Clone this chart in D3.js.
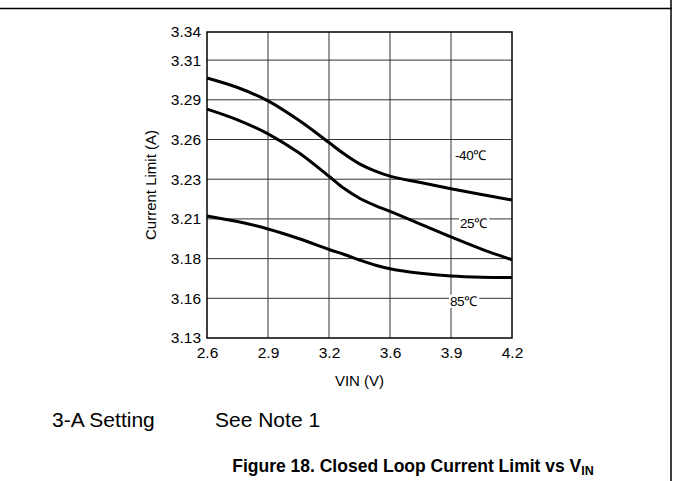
<!DOCTYPE html>
<html>
<head>
<meta charset="utf-8">
<script src="https://cdn.jsdelivr.net/npm/d3@7"></script>
<style>
  body { margin: 0; background: #fff; }
  svg { display: block; font-family: "Liberation Sans", Arial, sans-serif; }
</style>
</head>
<body>
<svg id="chart" width="676" height="481"></svg>
<script>
// tick labels as printed on the chart
const xTicks = [2.6, 2.9, 3.2, 3.6, 3.9, 4.2];
const yTicks = [3.13, 3.16, 3.18, 3.21, 3.23, 3.26, 3.29, 3.31, 3.34];

// VIN (V) sample points
const vin = [2.6, 2.75, 2.9, 3.05, 3.2, 3.3, 3.4, 3.5, 3.6, 3.75, 3.9, 4.05, 4.2];

// current limit (A) per temperature
const limitM40 = [3.3010, 3.2962, 3.2892, 3.2747, 3.2577, 3.2490, 3.2416, 3.2363, 3.2323, 3.2283, 3.2252, 3.2223, 3.2195];
const limit25  = [3.2830, 3.2749, 3.2643, 3.2501, 3.2322, 3.2253, 3.2204, 3.2168, 3.2138, 3.2061, 3.1964, 3.1872, 3.1794];
const limit85  = [3.2115, 3.2080, 3.2024, 3.1952, 3.1869, 3.1831, 3.1793, 3.1768, 3.1749, 3.1726, 3.1712, 3.1706, 3.1705];

const series = [
  {name: "-40℃", values: limitM40},
  {name: "25℃", values: limit25},
  {name: "85℃", values: limit85}
];

const svg = d3.select("#chart");

const plotLeft = 207, plotRight = 512, plotTop = 32, plotBottom = 338;
const yStep = 39.7;

// the printed grid is evenly spaced, so the scales go through each tick
const x = d3.scaleLinear()
  .domain(xTicks)
  .range(xTicks.map((d, i) => plotLeft + i * (plotRight - plotLeft) / (xTicks.length - 1)));

// top interval is shorter than the others on the original
const y = d3.scaleLinear()
  .domain(yTicks)
  .range(yTicks.map((d, i) => i === yTicks.length - 1 ? plotTop : plotBottom - i * yStep));

// page frame
svg.append("line").attr("x1", 0).attr("x2", 672).attr("y1", 8.5).attr("y2", 8.5)
  .attr("stroke", "#000").attr("stroke-width", 1.5);
svg.append("line").attr("x1", 671).attr("x2", 671).attr("y1", 0).attr("y2", 481)
  .attr("stroke", "#000").attr("stroke-width", 1.5);

// grid
const grid = svg.append("g").attr("stroke", "#333").attr("stroke-width", 1);
grid.selectAll(".gx").data(xTicks.slice(1, -1)).join("line")
  .attr("x1", d => x(d)).attr("x2", d => x(d))
  .attr("y1", plotTop).attr("y2", plotBottom);
grid.selectAll(".gy").data(yTicks.slice(1, -1)).join("line")
  .attr("x1", plotLeft).attr("x2", plotRight)
  .attr("y1", d => y(d)).attr("y2", d => y(d));

svg.append("rect")
  .attr("x", plotLeft).attr("y", plotTop)
  .attr("width", plotRight - plotLeft).attr("height", plotBottom - plotTop)
  .attr("fill", "none").attr("stroke", "#000").attr("stroke-width", 1.5);

// axes (labels only, no tick marks)
const xAxis = d3.axisBottom(x).tickValues(xTicks).tickSize(0).tickPadding(9)
  .tickFormat(d3.format(".1f"));
svg.append("g").attr("transform", `translate(0,${plotBottom})`).call(xAxis)
  .attr("font-family", null).attr("font-size", 15.5)
  .call(g => g.select(".domain").remove())
  .selectAll("text").attr("fill", "#000");

const yAxis = d3.axisLeft(y).tickValues(yTicks).tickSize(0).tickPadding(6)
  .tickFormat(d3.format(".2f"));
svg.append("g").attr("transform", `translate(${plotLeft},0)`).call(yAxis)
  .attr("font-family", null).attr("font-size", 15.5)
  .call(g => g.select(".domain").remove())
  .selectAll("text").attr("fill", "#000");

svg.append("text")
  .attr("x", (plotLeft + plotRight) / 2).attr("y", 386)
  .attr("text-anchor", "middle").attr("font-size", 15)
  .text("VIN (V)");

svg.append("text")
  .attr("transform", `translate(156,${(plotTop + plotBottom) / 2}) rotate(-90)`)
  .attr("text-anchor", "middle").attr("font-size", 15)
  .text("Current Limit (A)");

// curves
const line = d3.line()
  .x((d, i) => x(vin[i]))
  .y(d => y(d))
  .curve(d3.curveCatmullRom.alpha(0.5));

svg.append("g").selectAll("path").data(series).join("path")
  .attr("d", d => line(d.values))
  .attr("fill", "none").attr("stroke", "#000").attr("stroke-width", 3);

// curve labels
const labelPos = [
  {x: x(3.9) + 4, y: y(3.2483), bg: false},
  {x: x(3.9) + 9, y: y(3.207), bg: true},
  {x: x(3.9) - 1, y: y(3.158), bg: true}
];
const lab = svg.append("g").selectAll("g").data(series).join("g")
  .attr("transform", (d, i) => `translate(${labelPos[i].x},${labelPos[i].y})`);
lab.append("text")
  .attr("dy", "0.35em").attr("font-size", 13.5).attr("letter-spacing", -0.4)
  .text(d => d.name)
  .each(function(d, i) {
    if (!labelPos[i].bg) return;
    const b = this.getBBox();
    d3.select(this.parentNode).insert("rect", "text")
      .attr("x", b.x - 1).attr("y", b.y + 1)
      .attr("width", b.width + 2).attr("height", b.height - 2)
      .attr("fill", "#fff");
  });

// notes and caption
svg.append("text").attr("x", 52).attr("y", 427).attr("font-size", 21).text("3-A Setting");
svg.append("text").attr("x", 215).attr("y", 427).attr("font-size", 21).text("See Note 1");

const cap = svg.append("text")
  .attr("x", 413).attr("y", 472)
  .attr("text-anchor", "middle").attr("font-size", 17.5).attr("font-weight", "bold");
cap.append("tspan").text("Figure 18. Closed Loop Current Limit vs V");
cap.append("tspan").attr("font-size", 12.5).attr("dy", 3).text("IN");
</script>
</body>
</html>
